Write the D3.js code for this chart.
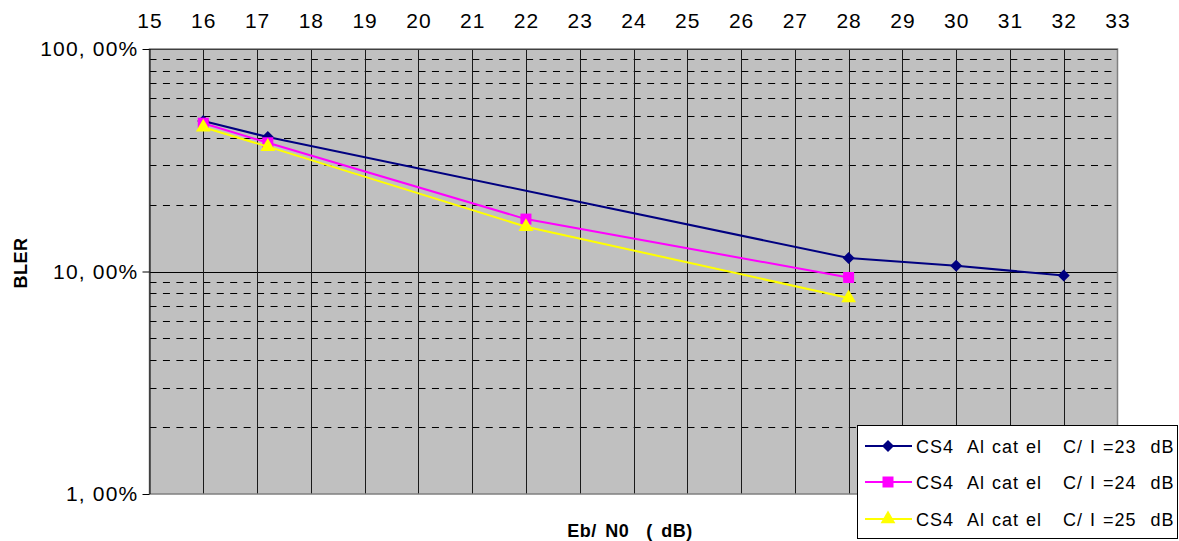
<!DOCTYPE html>
<html>
<head>
<meta charset="utf-8">
<script src="https://cdn.jsdelivr.net/npm/d3@7"></script>
<style>
  html, body { margin: 0; padding: 0; background: #fff; }
  svg { display: block; }
  text { font-family: "Liberation Sans", Arial, sans-serif; white-space: pre; }
</style>
</head>
<body>
<svg id="chart" width="1179" height="541"></svg>
<script>
// ---- Data ----
const xTicks = [15,16,17,18,19,20,21,22,23,24,25,26,27,28,29,30,31,32,33];
const yTicks = [1, 10, 100];
const yTickLabels = ["1, 00%", "10, 00%", "100, 00%"];
const seriesNames = ["CS4  Al cat el   C/ I =23  dB", "CS4  Al cat el   C/ I =24  dB", "CS4  Al cat el   C/ I =25  dB"];
const seriesColors = ["#000080", "#FF00FF", "#FFFF00"];
const seriesSymbols = ["diamond", "square", "triangle"];
const x23 = [16, 17.2, 28, 30, 32];
const y23 = [47.5, 40.2, 11.5, 10.6, 9.6];
const x24 = [16, 17.2, 22, 28];
const y24 = [46.4, 37.9, 17.2, 9.4];
const x25 = [16, 17.2, 22, 28];
const y25 = [44.5, 36.4, 15.9, 7.6];
const xTitle = "Eb/ N0  ( dB)";
const yTitle = "BLER";

const series = [
  {name: seriesNames[0], color: seriesColors[0], symbol: seriesSymbols[0], pts: x23.map((v,i)=>[v, y23[i]])},
  {name: seriesNames[1], color: seriesColors[1], symbol: seriesSymbols[1], pts: x24.map((v,i)=>[v, y24[i]])},
  {name: seriesNames[2], color: seriesColors[2], symbol: seriesSymbols[2], pts: x25.map((v,i)=>[v, y25[i]])}
];

// ---- Layout ----
const L = 149.5, R = 1117.5, T = 49, B = 494;
const FONT = "Liberation Sans, Arial, sans-serif";
const svg = d3.select("#chart");
const x = d3.scaleLinear().domain([15, 33]).range([L, R]);
const y = d3.scaleLog().domain([1, 100]).range([B, T]);

// plot background
svg.append("rect").attr("x", L).attr("y", T).attr("width", R - L).attr("height", B - T)
  .attr("fill", "#C0C0C0");

// minor dashed gridlines
const minor = [];
[1, 10].forEach(d => { for (let k = 2; k <= 9; k++) minor.push(d * k); });
svg.append("g").selectAll("line").data(minor).join("line")
  .attr("x1", L).attr("x2", R)
  .attr("y1", d => Math.round(y(d)) + 0.5).attr("y2", d => Math.round(y(d)) + 0.5)
  .attr("stroke", "#000").attr("stroke-width", 1)
  .attr("stroke-dasharray", "7,6.45");

// major horizontal gridline
svg.append("g").selectAll("line").data([10]).join("line")
  .attr("x1", L).attr("x2", R)
  .attr("y1", d => Math.round(y(d)) + 0.5).attr("y2", d => Math.round(y(d)) + 0.5)
  .attr("stroke", "#000").attr("stroke-width", 1);

// vertical gridlines
svg.append("g").selectAll("line").data(xTicks.slice(1, -1)).join("line")
  .attr("x1", d => Math.round(x(d)) + 0.5).attr("x2", d => Math.round(x(d)) + 0.5)
  .attr("y1", T).attr("y2", B)
  .attr("stroke", "#1a1a1a").attr("stroke-width", 1);

// plot border
svg.append("rect").attr("x", L).attr("y", T).attr("width", R - L).attr("height", B - T)
  .attr("fill", "none").attr("stroke", "#808080").attr("stroke-width", 1.5);
svg.append("line").attr("x1", L).attr("x2", R).attr("y1", T + 0.5).attr("y2", T + 0.5)
  .attr("stroke", "#404040").attr("stroke-width", 1);

// top axis
const gx = svg.append("g").attr("transform", `translate(0,${T})`)
  .call(d3.axisTop(x).tickValues(xTicks).tickSize(0).tickPadding(21).tickFormat(d3.format("d")));
gx.select(".domain").remove();
gx.selectAll("text").attr("font-size", 21).attr("fill", "#000")
  .attr("font-family", FONT).style("letter-spacing", "1px");

// left axis
const gy = svg.append("g").attr("transform", `translate(${L},0)`)
  .call(d3.axisLeft(y).tickValues(yTicks).tickSize(7).tickPadding(4)
    .tickFormat((d, i) => yTickLabels[i]));
gy.select(".domain").attr("stroke", "#000").attr("d", `M0.5,${T}V${B}`);
gy.selectAll(".tick line").attr("stroke", "#000");
gy.selectAll("text").attr("font-size", 21).attr("fill", "#000")
  .attr("font-family", FONT).style("letter-spacing", "1.2px");

// series
const wideDiamond = {draw(ctx, size) {
  const r = Math.sqrt(size / 2);
  ctx.moveTo(0, -r); ctx.lineTo(r, 0); ctx.lineTo(0, r); ctx.lineTo(-r, 0); ctx.closePath();
}};
const symType = {diamond: wideDiamond, square: d3.symbolSquare, triangle: d3.symbolTriangle};
const symSize = {diamond: 72, square: 121, triangle: 95};
const line = d3.line().x(d => x(d[0])).y(d => y(d[1]));
series.forEach(s => {
  const g = svg.append("g");
  g.append("path").datum(s.pts).attr("d", line)
    .attr("fill", "none").attr("stroke", s.color).attr("stroke-width", 2);
  g.selectAll("path.m").data(s.pts).join("path").attr("class", "m")
    .attr("transform", d => `translate(${x(d[0])},${y(d[1])})`)
    .attr("d", d3.symbol().type(symType[s.symbol]).size(symSize[s.symbol]))
    .attr("fill", s.color);
});

// axis titles
svg.append("text").attr("transform", "translate(27,263) rotate(-90)")
  .attr("text-anchor", "middle").attr("font-size", 18).attr("font-weight", "bold")
  .style("letter-spacing", "0.5px")
  .text(yTitle);
svg.append("text").attr("x", 630).attr("y", 537)
  .attr("text-anchor", "middle").attr("font-size", 18).attr("font-weight", "bold")
  .style("letter-spacing", "0.5px").style("word-spacing", "3px")
  .text(xTitle);

// legend
const lg = svg.append("g");
lg.append("rect").attr("x", 857.5).attr("y", 425.5).attr("width", 320).attr("height", 113)
  .attr("fill", "#fff").attr("stroke", "#000").attr("stroke-width", 1);
const rowY = [446, 482, 519];
series.forEach((s, i) => {
  const ry = rowY[i];
  lg.append("line").attr("x1", 865).attr("x2", 912).attr("y1", ry).attr("y2", ry)
    .attr("stroke", s.color).attr("stroke-width", 2);
  lg.append("path").attr("transform", `translate(888,${ry})`)
    .attr("d", d3.symbol().type(symType[s.symbol]).size(symSize[s.symbol]))
    .attr("fill", s.color);
  lg.append("text").attr("x", 916).attr("y", ry + 6.5).attr("font-size", 18)
    .attr("fill", "#000").style("letter-spacing", "1px").style("word-spacing", "1px")
    .text(s.name);
});
</script>
</body>
</html>
